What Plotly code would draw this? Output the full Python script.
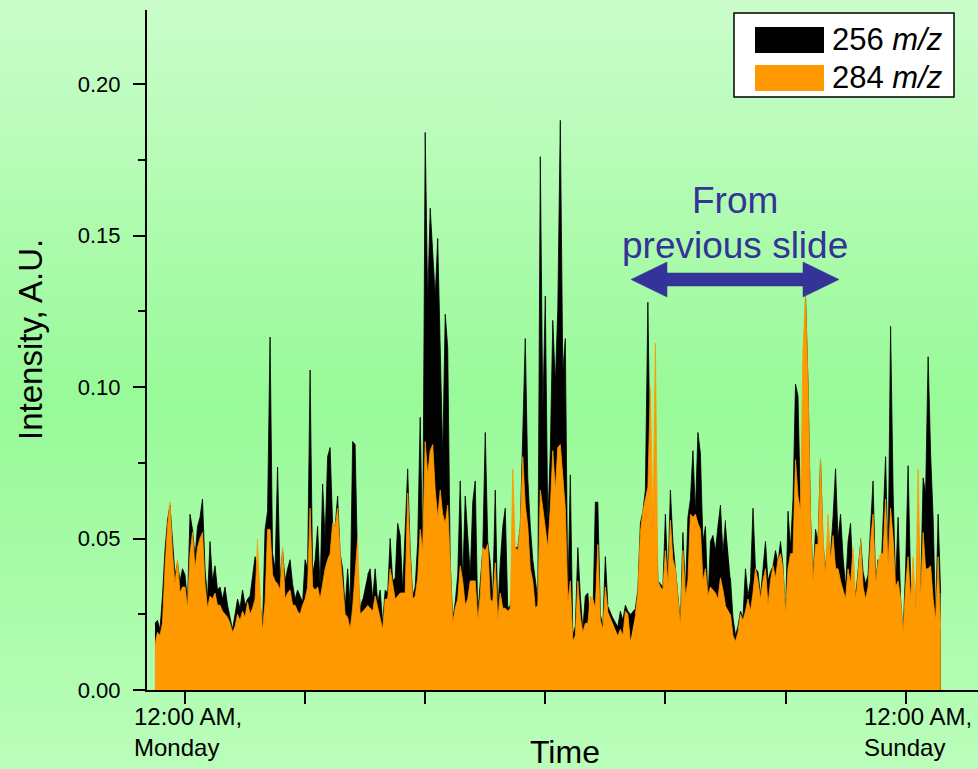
import base64
import plotly.graph_objects as go

# ---------------- data ----------------
START_HOUR = -6.0     # first sample: Sunday 6 PM (hours relative to Monday 12:00 AM)
STEP_HOUR = 0.5       # sampling interval, hours

ion_256 = [
    0.022, 0.023, 0.020, 0.031, 0.046, 0.056, 0.061, 0.050, 0.038, 0.042,
    0.036, 0.040, 0.038, 0.029, 0.058, 0.053, 0.044, 0.054, 0.057, 0.063,
    0.040, 0.030, 0.049, 0.036, 0.041, 0.033, 0.034, 0.030, 0.034, 0.028,
    0.024, 0.020, 0.025, 0.030, 0.027, 0.033, 0.028, 0.030, 0.031, 0.037,
    0.044, 0.041,
    None,
    0.021, 0.053, 0.059, 0.1165, 0.045, 0.040, 0.0736, 0.036, 0.046, 0.036,
    0.040, 0.043, 0.035, 0.030, 0.033, 0.031, 0.029, 0.043, 0.040, 0.1056,
    0.038, 0.043, 0.054, 0.034, 0.068, 0.050, 0.077, 0.080, 0.055, 0.054,
    0.064, 0.045, 0.040, 0.027, 0.040, 0.028, 0.082, 0.081, 0.040, 0.027,
    0.030,
    None,
    0.038, 0.040, 0.030, 0.040, 0.029, 0.033, 0.022, 0.033, 0.032, 0.050,
    0.036, 0.037, 0.055, 0.051, 0.033, 0.055, 0.073, 0.046, 0.031, 0.034,
    0.049, 0.090, 0.044, 0.184, 0.128, 0.159, 0.145, 0.130, 0.149, 0.113,
    0.077, 0.124, 0.113, 0.042, 0.023, 0.029, 0.038, 0.069, 0.036, 0.064,
    0.052, 0.038, 0.062, 0.069, 0.025, 0.037, 0.046, 0.085, 0.049, 0.042,
    0.030, 0.066, 0.025, 0.042, 0.054, 0.060, 0.027, 0.028, 0.036, 0.047,
    0.047, 0.054, 0.089, 0.116, 0.070, 0.054, 0.043, 0.036, 0.030, 0.176,
    0.091, 0.130, 0.055, 0.079, 0.122, 0.101, 0.126, 0.188, 0.105, 0.116,
    0.030, 0.071, 0.018, 0.021, 0.047, 0.031, 0.020, 0.031, 0.032, 0.020,
    0.023, 0.062,
    0.062, 0.025, 0.021, 0.044, 0.028,
    None,
    0.024,
    None,
    0.021, 0.026, 0.023, 0.028, 0.026, 0.025,
    None,
    0.027, 0.033, 0.055, 0.059, 0.066, 0.128, 0.069, 0.054, 0.067, 0.036,
    0.035, 0.034, 0.058, 0.036, 0.066, 0.049, 0.040, 0.031, 0.022, 0.052,
    0.032, 0.057, 0.063, 0.079, 0.059, 0.085, 0.078, 0.049, 0.054, 0.029,
    0.049, 0.051, 0.046, 0.054, 0.061, 0.045, 0.056,
    None,
    0.037, 0.024, 0.018, 0.021, 0.026, 0.024, 0.040, 0.031, 0.036, 0.060,
    0.040, 0.039, 0.031, 0.041, 0.049, 0.036, 0.039, 0.041, 0.046, 0.042,
    0.049, 0.041, 0.024, 0.059, 0.047, 0.063, 0.101, 0.097, 0.059, 0.069,
    0.130, 0.101, 0.057, 0.036, 0.053, 0.049,
    0.076, 0.048, 0.040, 0.050, 0.045, 0.057, 0.073,
    0.050, 0.058, 0.044, 0.034, 0.049, 0.055, 0.037, 0.032,
    None,
    0.050, 0.039, 0.035, 0.038, 0.054, 0.069, 0.035, 0.043, 0.035, 0.057,
    0.077, 0.041, 0.120, 0.066, 0.035, 0.057, 0.030, 0.019, 0.040, 0.074,
    0.036, 0.030, 0.027, 0.055, 0.032, 0.070, 0.065, 0.110, 0.078, 0.057,
    0.023, 0.058, 0.032,
]

ion_284 = [
    0.015, 0.019, 0.018, 0.022, 0.040, 0.054, 0.062, 0.045, 0.035, 0.043,
    0.032, 0.034, 0.034, 0.027, 0.045, 0.052, 0.040, 0.047, 0.050, 0.052,
    0.035, 0.027, 0.031, 0.030, 0.032, 0.028, 0.028, 0.026, 0.025, 0.024,
    0.022, 0.019, 0.021, 0.025, 0.023, 0.026, 0.024, 0.029, 0.025, 0.027,
    0.030, 0.050,
    None,
    0.020, 0.029, 0.053, 0.053, 0.038, 0.036, 0.035, 0.033, 0.047, 0.030,
    0.032, 0.033, 0.028, 0.028, 0.026, 0.025, 0.028, 0.030, 0.034, 0.060,
    0.034, 0.033, 0.034, 0.030, 0.035, 0.040, 0.043, 0.045, 0.055, 0.054,
    0.060, 0.045, 0.035, 0.025, 0.024, 0.020, 0.027, 0.040, 0.050, 0.025,
    0.026,
    None,
    0.028, 0.027, 0.026, 0.031, 0.027, 0.024, 0.020, 0.030, 0.030, 0.040,
    0.035, 0.030, 0.031, 0.032, 0.032, 0.032, 0.065, 0.044, 0.030, 0.031,
    0.037, 0.053, 0.046, 0.082, 0.071, 0.079, 0.081, 0.066, 0.057, 0.066,
    0.058, 0.055, 0.061, 0.039, 0.022, 0.027, 0.030, 0.041, 0.036, 0.028,
    0.030, 0.036, 0.036, 0.036, 0.023, 0.031, 0.047, 0.046, 0.048, 0.030,
    0.029, 0.042, 0.023, 0.032, 0.027, 0.027, 0.026, 0.027, 0.073, 0.047,
    0.046, 0.054, 0.077, 0.061, 0.054, 0.040, 0.036, 0.027, 0.028, 0.066,
    0.060, 0.053, 0.047, 0.060, 0.079, 0.066, 0.080, 0.081, 0.071, 0.060,
    0.029, 0.036, 0.016, 0.018, 0.036, 0.024, 0.019, 0.022, 0.022, 0.031,
    0.030, 0.027,
    0.048, 0.023, 0.020, 0.034, 0.026,
    None,
    0.022,
    None,
    0.018, 0.020, 0.018, 0.026, 0.025, 0.016,
    None,
    0.025, 0.032, 0.052, 0.059, 0.063, 0.067, 0.100, 0.054, 0.1145, 0.036,
    0.034, 0.033, 0.046, 0.035, 0.056, 0.043, 0.040, 0.029, 0.021, 0.046,
    0.031, 0.036, 0.058, 0.057, 0.058, 0.055, 0.053, 0.036, 0.040, 0.031,
    0.034, 0.033, 0.032, 0.030, 0.037, 0.033, 0.028,
    None,
    0.025, 0.018, 0.016, 0.019, 0.025, 0.023, 0.026, 0.030, 0.026, 0.032,
    0.040, 0.036, 0.030, 0.036, 0.040, 0.028, 0.036, 0.041, 0.037, 0.043,
    0.045, 0.040, 0.025, 0.040, 0.045, 0.045, 0.076, 0.064, 0.059, 0.113,
    0.130, 0.101, 0.057, 0.036, 0.048, 0.048,
    0.076, 0.050, 0.038, 0.058, 0.043, 0.051, 0.040,
    0.040, 0.036, 0.033, 0.030, 0.040, 0.035, 0.047, 0.030,
    None,
    0.050, 0.034, 0.030, 0.034, 0.049, 0.058, 0.035, 0.042, 0.045, 0.045,
    0.063, 0.041, 0.060, 0.050, 0.034, 0.036, 0.030, 0.019, 0.034, 0.044,
    0.030, 0.044, 0.025, 0.073, 0.030, 0.052, 0.040, 0.040, 0.041, 0.030,
    0.023, 0.044, 0.020,
]

assert len(ion_256) == len(ion_284)
hours = [START_HOUR + STEP_HOUR * i for i in range(len(ion_256))]

SERIES_NAMES = ["256 <i>m/z</i>", "284 <i>m/z</i>"]
DAY_TICKS = [0, 24, 48, 72, 96, 120, 144]
DAY_LABELS = ["12:00 AM,<br>Monday", "", "", "", "", "", "12:00 AM,<br>Sunday"]
Y_TICKS = [0.00, 0.05, 0.10, 0.15, 0.20]

# ---------------- layout geometry ----------------
W, H = 978, 769
ML, MR, MT, MB = 147, 0, 10, 79
PW, PH = W - ML - MR, H - MT - MB
FONT = "Liberation Sans, Arial, sans-serif"
BLACK = "#000000"
ORANGE = "#ff9900"
BLUE = "#333399"


def paper(px, py):
    return (px - ML) / PW, (H - MB - py) / PH


fig = go.Figure()
fig.add_trace(go.Scatter(x=hours, y=ion_256, name=SERIES_NAMES[0], mode="lines",
                         line=dict(color=BLACK, width=0.8), fill="tozeroy",
                         fillcolor=BLACK, connectgaps=False))
fig.add_trace(go.Scatter(x=hours, y=ion_284, name=SERIES_NAMES[1], mode="lines",
                         line=dict(color=ORANGE, width=0.8), fill="tozeroy",
                         fillcolor=ORANGE, connectgaps=False))

# background gradient
svg = (f'<svg xmlns="http://www.w3.org/2000/svg" width="{W}" height="{H}" '
       f'viewBox="0 0 {W} {H}" preserveAspectRatio="none"><defs>'
       '<linearGradient id="g" x1="0" y1="0" x2="0" y2="1">'
       '<stop offset="0" stop-color="#cbfdcb"/>'
       '<stop offset="0.52" stop-color="#98fa98"/>'
       '<stop offset="1" stop-color="#bafdba"/>'
       '</linearGradient></defs>'
       f'<rect width="{W}" height="{H}" fill="url(#g)"/></svg>')
src = "data:image/svg+xml;base64," + base64.b64encode(svg.encode()).decode()
bx, by = paper(0, 0)
images = [dict(source=src, xref="paper", yref="paper", x=bx, y=by,
               sizex=W / PW, sizey=H / PH, xanchor="left", yanchor="top",
               sizing="stretch", layer="below")]

shapes = []
annotations = []

# legend (drawn by hand)
x0, y0 = paper(734, 13)
x1, y1 = paper(954, 97)
shapes.append(dict(type="rect", xref="paper", yref="paper", x0=x0, y0=y0, x1=x1, y1=y1,
                   fillcolor="white", line=dict(color="black", width=1.5)))
for (top, bot, color, name) in [(27, 53, BLACK, SERIES_NAMES[0]), (65, 91, ORANGE, SERIES_NAMES[1])]:
    sx0, sy0 = paper(755, top)
    sx1, sy1 = paper(824, bot)
    shapes.append(dict(type="rect", xref="paper", yref="paper", x0=sx0, y0=sy0, x1=sx1,
                       y1=sy1, fillcolor=color, line=dict(width=0)))
    tx, ty = paper(830, (top + bot) / 2)
    annotations.append(dict(text=name, xref="paper", yref="paper", x=tx, y=ty,
                            xanchor="left", yanchor="middle", showarrow=False,
                            font=dict(family=FONT, size=31, color="black")))

# double-headed arrow
arrow_px = [(631, 279.5), (667, 262), (667, 273), (803, 273), (803, 262), (839, 279.5),
            (803, 297), (803, 286), (667, 286), (667, 297)]
pts = [paper(px, py) for px, py in arrow_px]
path = "M " + " L ".join(f"{a:.5f},{b:.5f}" for a, b in pts) + " Z"
shapes.append(dict(type="path", xref="paper", yref="paper", path=path,
                   fillcolor=BLUE, line=dict(color=BLUE, width=0.5)))

for text, cy in [("From", 200), ("previous slide", 245)]:
    ax_, ay_ = paper(735, cy)
    annotations.append(dict(text=text, xref="paper", yref="paper", x=ax_, y=ay_,
                            xanchor="center", yanchor="middle", showarrow=False,
                            font=dict(family=FONT, size=37, color=BLUE)))

# axis titles
tx, ty = paper(30, 340)
annotations.append(dict(text="Intensity, A.U.", xref="paper", yref="paper", x=tx, y=ty,
                        textangle=-90, xanchor="center", yanchor="middle", showarrow=False,
                        font=dict(family=FONT, size=33, color="black")))
tx, ty = paper(565, 752)
annotations.append(dict(text="Time", xref="paper", yref="paper", x=tx, y=ty,
                        xanchor="center", yanchor="middle", showarrow=False,
                        font=dict(family=FONT, size=32, color="black")))

# x tick labels (left-aligned two-line blocks)
label_shift = {0: 3, 144: 12}
_, ly = paper(0, 732)
for tv, lab in zip(DAY_TICKS, DAY_LABELS):
    if lab:
        annotations.append(dict(text=lab, xref="x", yref="paper", x=tv, y=ly,
                                xanchor="center", yanchor="middle", align="left",
                                xshift=label_shift.get(tv, 0), showarrow=False,
                                font=dict(family=FONT, size=24, color="black")))

PX_PER_HOUR = (905.6 - 185) / 144
x_lo = (ML - 185) / PX_PER_HOUR
x_hi = (W - MR - 185) / PX_PER_HOUR

fig.update_layout(
    width=W, height=H,
    margin=dict(l=ML, r=MR, t=MT, b=MB, pad=0),
    paper_bgcolor="#a8fba8",
    plot_bgcolor="rgba(0,0,0,0)",
    showlegend=False,
    images=images, shapes=shapes, annotations=annotations,
    font=dict(family=FONT, color="black"),
    xaxis=dict(range=[x_lo, x_hi], tickvals=DAY_TICKS, showticklabels=False,
               ticks="outside", ticklen=12, tickwidth=2, tickcolor="black",
               showline=True, linecolor="black", linewidth=2, showgrid=False,
               zeroline=False),
    yaxis=dict(range=[0, PH / 3030], tickvals=Y_TICKS, tickformat=".2f",
               ticks="outside", ticklen=12, tickwidth=2, tickcolor="black",
               minor=dict(dtick=0.025, tick0=0, ticks="outside", ticklen=7,
                          tickwidth=2, tickcolor="black"),
               showline=True, linecolor="black", linewidth=2, showgrid=False,
               zeroline=False, ticklabelstandoff=8,
               tickfont=dict(family=FONT, size=22, color="black")),
)

fig.write_html("out.html", config={"displayModeBar": False},
               post_script="document.body.style.margin='0px';document.body.style.overflow='hidden';")
